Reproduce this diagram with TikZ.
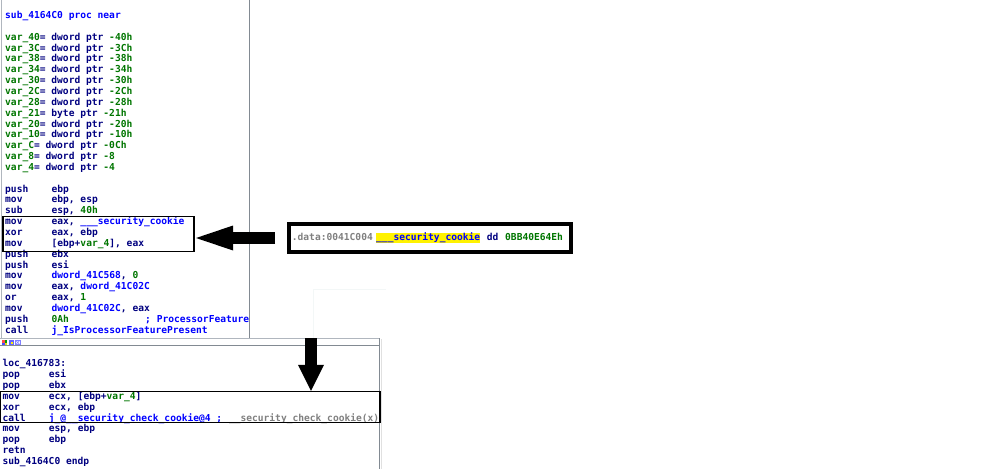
\documentclass[tikz,border=0pt]{standalone}
\usepackage{fontspec}
\newfontfamily\codefont{DejaVu Sans Mono}
\usetikzlibrary{arrows.meta,calc}
\definecolor{idanavy}{RGB}{0,0,128}
\definecolor{idagreen}{RGB}{0,118,0}
\definecolor{idablue}{RGB}{0,0,255}
\definecolor{idagray}{RGB}{128,128,128}
\definecolor{winline}{RGB}{130,138,146}
\definecolor{winlight}{RGB}{176,182,190}
\definecolor{faintline}{RGB}{243,247,247}
\newcommand\grn[1]{\textcolor{idagreen}{#1}}
\newcommand\blu[1]{\textcolor{idablue}{#1}}
\newcommand\gry[1]{\textcolor{idagray}{#1}}
% name, x0, baseline y, mnemonic, operand
\newcommand\asmline[5]{%
  \node[code] (#1m) at (#2,#3) {#4};
  \node[code] (#1o) at ({#2+46.4},#3) {#5};}
\begin{document}
\frenchspacing
\begin{tikzpicture}[x=1pt,y=-1pt,
  code/.style={anchor=base west,inner sep=0pt,text=idanavy,
    font=\codefont\bfseries\fontsize{9.6pt}{10pt}\selectfont},
  markbox/.style={draw=black,line width=1.5pt,inner sep=0pt},
  cookiebox/.style={draw=black,line width=4pt,inner sep=0pt,fill=white},
  leftarrow/.style={line width=12pt,-{Triangle[length=37pt,width=25pt,line width=0pt]}},
  downarrow/.style={line width=12pt,-{Triangle[length=26pt,width=26pt,line width=0pt]}}]
\useasboundingbox (0,0) rectangle (1000,469);
\fill[white] (0,0) rectangle (1000,469);

% ---------- top window ----------
\node[code,text=idablue] (t0) at (5,18.5) {sub\_4164C0 proc near};
\node[code] (t2)  at (5,{18.5+10.85*2})  {\grn{var\_40}= dword ptr \grn{-40h}};
\node[code] (t3)  at (5,{18.5+10.85*3})  {\grn{var\_3C}= dword ptr \grn{-3Ch}};
\node[code] (t4)  at (5,{18.5+10.85*4})  {\grn{var\_38}= dword ptr \grn{-38h}};
\node[code] (t5)  at (5,{18.5+10.85*5})  {\grn{var\_34}= dword ptr \grn{-34h}};
\node[code] (t6)  at (5,{18.5+10.85*6})  {\grn{var\_30}= dword ptr \grn{-30h}};
\node[code] (t7)  at (5,{18.5+10.85*7})  {\grn{var\_2C}= dword ptr \grn{-2Ch}};
\node[code] (t8)  at (5,{18.5+10.85*8})  {\grn{var\_28}= dword ptr \grn{-28h}};
\node[code] (t9)  at (5,{18.5+10.85*9})  {\grn{var\_21}= byte ptr \grn{-21h}};
\node[code] (t10) at (5,{18.5+10.85*10}) {\grn{var\_20}= dword ptr \grn{-20h}};
\node[code] (t11) at (5,{18.5+10.85*11}) {\grn{var\_10}= dword ptr \grn{-10h}};
\node[code] (t12) at (5,{18.5+10.85*12}) {\grn{var\_C}= dword ptr \grn{-0Ch}};
\node[code] (t13) at (5,{18.5+10.85*13}) {\grn{var\_8}= dword ptr \grn{-8}};
\node[code] (t14) at (5,{18.5+10.85*14}) {\grn{var\_4}= dword ptr \grn{-4}};
\asmline{t16}{5}{18.5+10.85*16}{push}{ebp}
\asmline{t17}{5}{18.5+10.85*17}{mov}{ebp, esp}
\asmline{t18}{5}{18.5+10.85*18}{sub}{esp, \grn{40h}}
\asmline{t19}{5}{18.5+10.85*19}{mov}{eax, \blu{\_\_\_security\_cookie}}
\asmline{t20}{5}{18.5+10.85*20}{xor}{eax, ebp}
\asmline{t21}{5}{18.5+10.85*21}{mov}{[ebp+\grn{var\_4}], eax}
\asmline{t22}{5}{18.5+10.85*22}{push}{ebx}
\asmline{t23}{5}{18.5+10.85*23}{push}{esi}
\asmline{t24}{5}{18.5+10.85*24}{mov}{\blu{dword\_41C568}, \grn{0}}
\asmline{t25}{5}{18.5+10.85*25}{mov}{eax, \blu{dword\_41C02C}}
\asmline{t26}{5}{18.5+10.85*26}{or}{eax, \grn{1}}
\asmline{t27}{5}{18.5+10.85*27}{mov}{\blu{dword\_41C02C}, eax}
\asmline{t28}{5}{18.5+10.85*28}{push}{\grn{0Ah}}
\node[code,text=idablue] (t28c) at (145,{18.5+10.85*28}) {; ProcessorFeature};
\asmline{t29}{5}{18.5+10.85*29}{call}{\blu{j\_IsProcessorFeaturePresent}}

% window borders of the top view
\draw[winlight,line width=1pt] (1.5,0) -- (1.5,338);
\draw[winline,line width=1.5pt] (249.5,0) -- (249.5,338);
\draw[faintline,line width=0.8pt] (313,338) -- (313,289) -- (386,289);

% highlight of the cookie load
\node[markbox,minimum width=191pt,minimum height=34.6pt] (b1) at (98.5,234) {};

% ---------- cookie definition ----------
\node[cookiebox,minimum width=282pt,minimum height=28.6pt] (ck) at (429.7,238) {};
\node[code,text=idagray] (ckd) at (291.7,240.2) {.data:0041C004};
\node[code,text=idablue,fill=yellow,text height=7.5pt,text depth=2.5pt] (ckn) at (376,240.2) {\_\_\_security\_cookie};
\node[code] (ckk) at (486.7,240.2) {dd};
\node[code,text=idagreen] (ckv) at (505,240.2) {0BB40E64Eh};

\draw[leftarrow,shorten <=11.7pt,shorten >=1.3pt] (ck.west) -- (ck.west -| b1.east);

% ---------- bottom window ----------
\fill[white] (0,338) rectangle (380,469);
\draw[winlight,line width=1pt] (0,338.5) -- (380,338.5);
\draw[winline,line width=1pt] (0,345.2) -- (380,345.2);
\draw[winline,line width=1.5pt] (379.5,338) -- (379.5,469);
\draw[black!12,line width=1pt] (381.5,339) -- (381.5,469);
% small window icons
\fill[red!70] (2,340) rectangle (4.5,342.5);
\fill[green!60!black] (4.5,340) rectangle (7,342.5);
\fill[blue!70] (2,342.5) rectangle (4.5,345);
\fill[yellow!90!black] (4.5,342.5) rectangle (7,345);
\fill[blue!60] (9,340) rectangle (14,345);
\fill[yellow] (10.5,341.5) rectangle (13,344);
\draw[blue!50,line width=0.6pt] (15.5,340.3) rectangle (20,344.7);
\draw[blue!50,line width=0.5pt] (15.5,340.3) -- (20,344.7) (15.5,344.7) -- (20,340.3);

\node[code] (u0) at (2.3,{366.8}) {loc\_416783:};
\asmline{u1}{2.3}{366.8+10.85*1}{pop}{esi}
\asmline{u2}{2.3}{366.8+10.85*2}{pop}{ebx}
\asmline{u3}{2.3}{366.8+10.85*3}{mov}{ecx, [ebp+\grn{var\_4}]}
\asmline{u4}{2.3}{366.8+10.85*4}{xor}{ecx, ebp}
\asmline{u5}{2.3}{366.8+10.85*5}{call}{\blu{j\_@\_\_security\_check\_cookie@4 ;}}
\node[code,text=idagray] (u5c) at (228.8,{366.8+10.85*5}) {\_\_security\_check\_cookie(x)};
\asmline{u6}{2.3}{366.8+10.85*6}{mov}{esp, ebp}
\asmline{u7}{2.3}{366.8+10.85*7}{pop}{ebp}
\node[code] (u8) at (2.3,{366.8+10.85*8}) {retn};
\node[code] (u9) at (2.3,{366.8+10.85*9}) {sub\_4164C0 endp};

% highlight of the cookie check
\node[markbox,minimum width=379.5pt,minimum height=31pt] (b2) at (190.25,407.2) {};

\coordinate (a2) at (311,338);
\draw[downarrow] (a2) -- (a2 |- b2.north);
\end{tikzpicture}
\end{document}
